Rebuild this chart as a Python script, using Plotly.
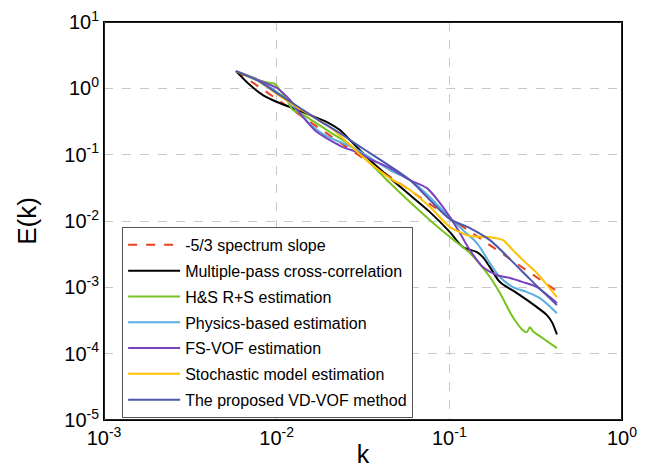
import plotly.graph_objects as go

# ---- data ----
slope_k = [0.00581, 0.420]
slope_E = [1.82, 0.000876]

mpcc_k = [0.00581, 0.00701, 0.00833, 0.01004, 0.01194, 0.01559, 0.01956, 0.02326, 0.02658, 0.03037,
          0.03470, 0.04529, 0.05913, 0.07723, 0.1008, 0.1199, 0.1445, 0.1565, 0.1718, 0.1963,
          0.2463, 0.3215, 0.3674, 0.3927, 0.420]
mpcc_E = [1.82, 1.121, 0.792, 0.622, 0.523, 0.396, 0.310, 0.235, 0.166, 0.117,
          0.0829, 0.0444, 0.0246, 0.0136, 0.00680, 0.00404, 0.00340, 0.00285, 0.00202, 0.00120,
          0.000818, 0.000503, 0.000381, 0.000299, 0.000195]

hs_k = [0.00581, 0.00769, 0.00915, 0.00978, 0.01045, 0.01147, 0.01243, 0.01365, 0.01559, 0.02035,
        0.02658, 0.03470, 0.04529, 0.05913, 0.07723, 0.1008, 0.1316, 0.1718, 0.1963, 0.2335,
        0.2667, 0.2813, 0.2928, 0.3048, 0.3482, 0.4198]
hs_E = [1.82, 1.334, 1.202, 1.161, 0.943, 0.666, 0.471, 0.424, 0.344, 0.219,
        0.140, 0.0747, 0.0373, 0.0193, 0.0103, 0.00572, 0.00328, 0.00143, 0.000818, 0.000355,
        0.000226, 0.000211, 0.000251, 0.000218, 0.000171, 0.000121]

phys_k = [0.00581, 0.00769, 0.01004, 0.01311, 0.01559, 0.01854, 0.02326, 0.02658, 0.03037, 0.03470,
          0.04529, 0.05913, 0.07723, 0.1008, 0.1199, 0.1445, 0.1718, 0.1963, 0.2335, 0.2813,
          0.3346, 0.4198]
phys_E = [1.82, 1.381, 0.879, 0.471, 0.289, 0.2045, 0.155, 0.135, 0.112, 0.0905,
          0.0586, 0.0414, 0.0229, 0.0111, 0.00729, 0.00464, 0.00232, 0.00143, 0.00101, 0.000846,
          0.000687, 0.000408]

fsvof_k = [0.00581, 0.00701, 0.00833, 0.01004, 0.01194, 0.01421, 0.01712, 0.02035, 0.02421, 0.03037,
           0.03470, 0.04529, 0.05913, 0.07420, 0.08825, 0.1008, 0.1152, 0.1316, 0.1565, 0.1887,
           0.2243, 0.2667, 0.3215, 0.3824, 0.4198]
fsvof_E = [1.82, 1.480, 1.245, 1.0105, 0.666, 0.369, 0.219, 0.166, 0.1302, 0.1057,
           0.0858, 0.0628, 0.0414, 0.0313, 0.0186, 0.01145, 0.00657, 0.00364, 0.00202, 0.00153,
           0.00138, 0.00120, 0.00101, 0.000712, 0.000578]

stoch_k = [0.00581, 0.00769, 0.01004, 0.01311, 0.01667, 0.02035, 0.02658, 0.03470, 0.04529, 0.05913,
           0.07723, 0.1008, 0.1152, 0.1316, 0.1718, 0.2044, 0.2335, 0.2667, 0.3215, 0.4198]
stoch_E = [1.82, 1.334, 0.820, 0.5225, 0.3566, 0.2609, 0.1396, 0.0747, 0.0444, 0.0293,
           0.0162, 0.00809, 0.00680, 0.00592, 0.00572, 0.00515, 0.00364, 0.00257, 0.00164, 0.000712]

vdvof_k = [0.00581, 0.00769, 0.01004, 0.01311, 0.01782, 0.02326, 0.02658, 0.03470, 0.04529, 0.05913,
           0.07723, 0.1008, 0.1316, 0.1718, 0.2243, 0.2928, 0.4198]
vdvof_E = [1.82, 1.334, 0.849, 0.541, 0.321, 0.2117, 0.1661, 0.1057, 0.0673, 0.0414,
           0.0207, 0.0107, 0.00782, 0.00515, 0.00266, 0.00133, 0.000539]

x_tickvals = [0.001, 0.01, 0.1, 1]
x_ticktext = ["10<sup>-3</sup>", "10<sup>-2</sup>", "10<sup>-1</sup>", "10<sup>0</sup>"]
y_tickvals = [1e-5, 1e-4, 1e-3, 1e-2, 1e-1, 1, 10]
y_ticktext = ["10<sup>-5</sup>", "10<sup>-4</sup>", "10<sup>-3</sup>", "10<sup>-2</sup>",
              "10<sup>-1</sup>", "10<sup>0</sup>", "10<sup>1</sup>"]

series = [
    ("-5/3 spectrum slope", slope_k, slope_E, "#e8401c", "dash"),
    ("Multiple-pass cross-correlation", mpcc_k, mpcc_E, "#000000", "solid"),
    ("H&S R+S estimation", hs_k, hs_E, "#77c31f", "solid"),
    ("Physics-based estimation", phys_k, phys_E, "#5aaee0", "solid"),
    ("FS-VOF estimation", fsvof_k, fsvof_E, "#7a42bd", "solid"),
    ("Stochastic model estimation", stoch_k, stoch_E, "#ffc000", "solid"),
    ("The proposed VD-VOF method", vdvof_k, vdvof_E, "#4d58ad", "solid"),
]

FONT = "Liberation Sans, Arial, sans-serif"
PLOT_W = 642 - 96 - 28
PLOT_H = 460 - 14 - 48

fig = go.Figure()
for name, kx, ey, col, dash in series:
    fig.add_trace(go.Scatter(
        x=kx, y=ey, mode="lines", name=name, legendgroup=name,
        line=dict(color=col, width=2, dash=dash,
                  shape="linear" if dash == "dash" else "spline", smoothing=0.8),
    ))

# invisible helper trace that owns the top / right frame axes
fig.add_trace(go.Scatter(x=slope_k, y=slope_E, xaxis="x2", yaxis="y2", mode="lines",
                         line=dict(color="rgba(0,0,0,0)", width=0), showlegend=False,
                         hoverinfo="skip"))

# the page body adds an 8 px offset; the figure is sized to fit the window
fig.update_layout(
    width=642, height=460,
    margin=dict(l=96, r=28, t=14, b=48, autoexpand=False),
    paper_bgcolor="white", plot_bgcolor="white",
    font=dict(family=FONT, color="black"),
    showlegend=True,
    legend=dict(
        x=0.035, y=0.485, xanchor="left", yanchor="top",
        bgcolor="white", bordercolor="#555555", borderwidth=1,
        font=dict(family=FONT, size=16, color="black"),
        tracegroupgap=2, itemwidth=52,
    ),
    shapes=[dict(type="rect", xref="paper", yref="paper",
                 x0=0.5 / PLOT_W, x1=1 - 0.5 / PLOT_W,
                 y0=0.5 / PLOT_H, y1=1 - 0.5 / PLOT_H,
                 line=dict(color="#222222", width=1), fillcolor="rgba(0,0,0,0)", layer="above")],
    xaxis2=dict(type="log", range=[-3, 0], overlaying="x", side="top", anchor="y2",
                showline=True, linecolor="black", linewidth=1, showgrid=False,
                showticklabels=False, ticks="", zeroline=False, automargin=False),
    yaxis2=dict(type="log", range=[-5, 1], overlaying="y", side="right", anchor="x2",
                showline=True, linecolor="black", linewidth=1, showgrid=False,
                showticklabels=False, ticks="", zeroline=False, automargin=False),
)
fig.update_layout(
    xaxis=dict(
        type="log", range=[-3, 0],
        tickvals=x_tickvals, ticktext=x_ticktext,
        tickfont=dict(size=20, family=FONT), ticklabeloverflow="allow",
        showgrid=True, gridcolor="#c8c8c8", griddash="dash", gridwidth=1,
        showline=True, linecolor="black", linewidth=1, mirror=True,
        ticks="", zeroline=False, automargin=False,
        title=dict(text="k", font=dict(size=25, family=FONT), standoff=0),
    ),
    yaxis=dict(
        type="log", range=[-5, 1],
        tickvals=y_tickvals, ticktext=y_ticktext,
        tickfont=dict(size=20, family=FONT), ticklabeloverflow="allow",
        showgrid=True, gridcolor="#c8c8c8", griddash="dash", gridwidth=1,
        showline=True, linecolor="black", linewidth=1, mirror=True,
        ticks="", zeroline=False, automargin=False,
        title=dict(text="E(k)", font=dict(size=26, family=FONT), standoff=20),
    ),
)

fig.write_html("out.html")
